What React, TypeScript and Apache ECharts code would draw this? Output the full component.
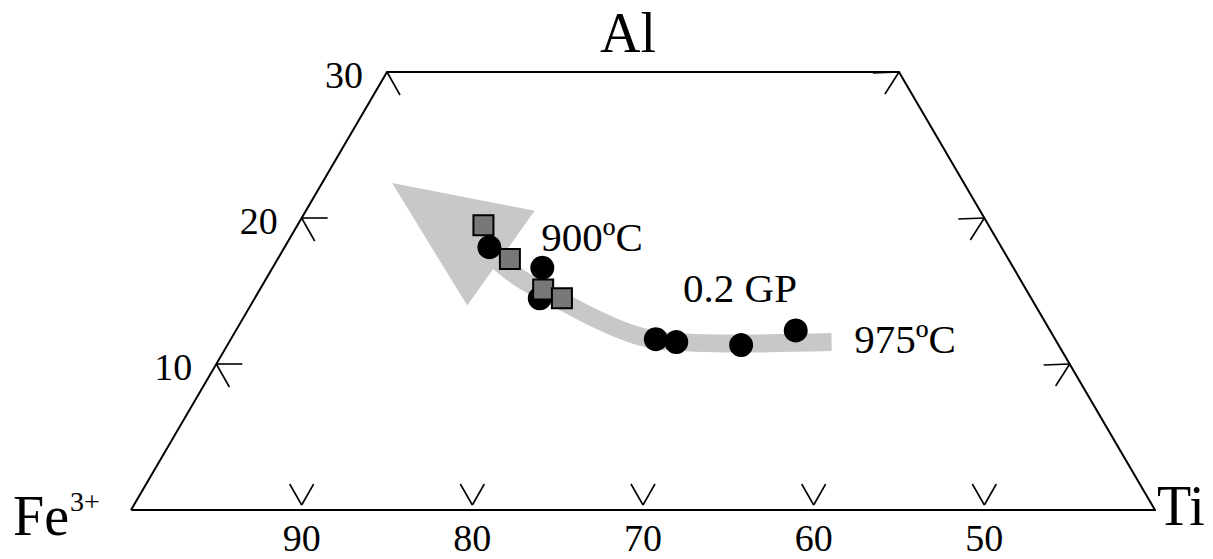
import React, { useEffect, useRef } from "react";
import * as echarts from "echarts";

// Ternary diagram Fe3+ – Ti – Al, portion with Al <= 30 and Fe3+ >= 40.
// Compositions are given as Al and Ti percentages (Fe3+ is the remainder).
const AL_MAX = 30;
const FE_MIN = 40;

const circleAl = [18.0, 16.6, 14.5, 11.7, 11.5, 11.3, 12.3];
const circleTi = [12.0, 15.8, 16.7, 24.9, 26.2, 30.1, 32.8];

const squareAl = [19.5, 17.2, 15.1, 14.5];
const squareTi = [10.9, 13.6, 16.6, 18.0];

// Grey trend band, from 975 °C towards 900 °C, and its arrow head
const trendAl = [11.5, 11.4, 11.6, 12.1, 13.0, 14.4, 15.9, 17.5];
const trendTi = [35.3, 29.9, 25.2, 23.2, 20.9, 17.9, 14.8, 12.3];
const headAl = [22.4, 20.5, 14.0];
const headTi = [4.1, 13.4, 12.7];

const feTicks = [90, 80, 70, 60, 50];
const alTicks = [10, 20, 30];

const FONT = '"Liberation Serif", "Times New Roman", serif';

// ternary (Ti, Al) -> plane coordinates
const toXY = (ti: number, al: number): [number, number] => [ti + al / 2, al];

export default function App() {
  const ref = useRef<HTMLDivElement>(null);

  useEffect(() => {
    if (!ref.current) return;
    const chart = echarts.init(ref.current, null, { renderer: "svg" });

    const tiMax = 100 - FE_MIN;
    const outline = [
      toXY(0, 0),
      toXY(0, AL_MAX),
      toXY(tiMax - AL_MAX, AL_MAX),
      toXY(tiMax, 0),
      toXY(0, 0),
    ];

    type Tick = { pos: [number, number]; side: string; label: string };
    const ticks: Tick[] = [];
    feTicks.forEach((fe) =>
      ticks.push({ pos: toXY(100 - fe, 0), side: "bottom", label: String(fe) })
    );
    alTicks.forEach((al) => {
      ticks.push({ pos: toXY(0, al), side: "left", label: String(al) });
      ticks.push({ pos: toXY(tiMax - al, al), side: "right", label: "" });
    });

    const lineStyle = { stroke: "#000", lineWidth: 1.6 };
    const tickFont = `38px ${FONT}`;

    chart.setOption({
      animation: false,
      grid: { left: 131, top: 72, width: 1024, height: 438 },
      xAxis: { type: "value", min: 0, max: tiMax, show: false },
      yAxis: { type: "value", min: 0, max: AL_MAX, show: false },
      series: [
        {
          type: "line",
          name: "trend",
          data: trendTi.map((t, i) => toXY(t, trendAl[i])),
          smooth: 0.35,
          symbol: "none",
          silent: true,
          z: 1,
          lineStyle: { color: "#c8c8c8", width: 18, cap: "butt", join: "round" },
        },
        {
          type: "custom",
          name: "arrowHead",
          coordinateSystem: "cartesian2d",
          silent: true,
          z: 1,
          data: [toXY(headTi[0], headAl[0])],
          renderItem: (_params: any, api: any) => ({
            type: "polygon",
            shape: {
              points: headTi.map((t, i) => api.coord(toXY(t, headAl[i]))),
            },
            style: { fill: "#c8c8c8" },
          }),
        },
        {
          type: "line",
          name: "outline",
          data: outline,
          symbol: "none",
          silent: true,
          z: 2,
          lineStyle: { color: "#000", width: 2, join: "miter" },
        },
        {
          type: "custom",
          name: "ticks",
          coordinateSystem: "cartesian2d",
          silent: true,
          z: 2,
          data: ticks.map((t) => t.pos),
          renderItem: (params: any, api: any) => {
            const t = ticks[params.dataIndex];
            const [px, py] = api.coord(t.pos);
            const children: any[] = [];
            if (t.side === "bottom") {
              const vy = py - 5;
              children.push(
                { type: "line", shape: { x1: px, y1: vy, x2: px - 12, y2: vy - 21 }, style: lineStyle },
                { type: "line", shape: { x1: px, y1: vy, x2: px + 12, y2: vy - 21 }, style: lineStyle },
                {
                  type: "text",
                  x: px,
                  y: py + 28,
                  style: { text: t.label, font: tickFont, fill: "#000", align: "center", verticalAlign: "middle" },
                }
              );
            } else if (t.side === "left") {
              children.push(
                { type: "line", shape: { x1: px, y1: py, x2: px + 26, y2: py }, style: lineStyle },
                { type: "line", shape: { x1: px, y1: py, x2: px + 13, y2: py + 23 }, style: lineStyle },
                {
                  type: "text",
                  x: px - 24,
                  y: py + 3,
                  style: { text: t.label, font: tickFont, fill: "#000", align: "right", verticalAlign: "middle" },
                }
              );
            } else {
              children.push(
                { type: "line", shape: { x1: px, y1: py, x2: px - 26, y2: py + 1 }, style: lineStyle },
                { type: "line", shape: { x1: px, y1: py, x2: px - 14, y2: py + 22 }, style: lineStyle }
              );
            }
            return { type: "group", children };
          },
        },
        {
          type: "scatter",
          name: "circles",
          data: circleTi.map((t, i) => toXY(t, circleAl[i])),
          symbol: "circle",
          symbolSize: 24,
          silent: true,
          z: 3,
          itemStyle: { color: "#000", opacity: 1 },
        },
        {
          type: "scatter",
          name: "squares",
          data: squareTi.map((t, i) => toXY(t, squareAl[i])),
          symbol: "rect",
          symbolSize: 20,
          silent: true,
          z: 4,
          itemStyle: { color: "#787878", borderColor: "#000", borderWidth: 2, opacity: 1 },
        },
      ],
      graphic: [
        {
          type: "text",
          x: 628,
          y: 33,
          style: { text: "Al", font: `56px ${FONT}`, fill: "#000", align: "center", verticalAlign: "middle" },
        },
        {
          type: "text",
          x: 13,
          y: 516,
          style: { text: "Fe", font: `56px ${FONT}`, fill: "#000", align: "left", verticalAlign: "middle" },
        },
        {
          type: "text",
          x: 70,
          y: 501,
          style: { text: "3+", font: `28px ${FONT}`, fill: "#000", align: "left", verticalAlign: "middle" },
        },
        {
          type: "text",
          x: 1157,
          y: 506,
          style: { text: "Ti", font: `56px ${FONT}`, fill: "#000", align: "left", verticalAlign: "middle" },
        },
        {
          type: "text",
          x: 592,
          y: 237,
          style: { text: "900ºC", font: `41px ${FONT}`, fill: "#000", align: "center", verticalAlign: "middle" },
        },
        {
          type: "text",
          x: 740,
          y: 288,
          style: { text: "0.2 GP", font: `41px ${FONT}`, fill: "#000", align: "center", verticalAlign: "middle" },
        },
        {
          type: "text",
          x: 905,
          y: 339,
          style: { text: "975ºC", font: `41px ${FONT}`, fill: "#000", align: "center", verticalAlign: "middle" },
        },
      ],
    });

    return () => chart.dispose();
  }, []);

  return (
    <div
      ref={ref}
      style={{ position: "absolute", left: 0, top: 0, width: 1213, height: 559, background: "#fff" }}
    />
  );
}
